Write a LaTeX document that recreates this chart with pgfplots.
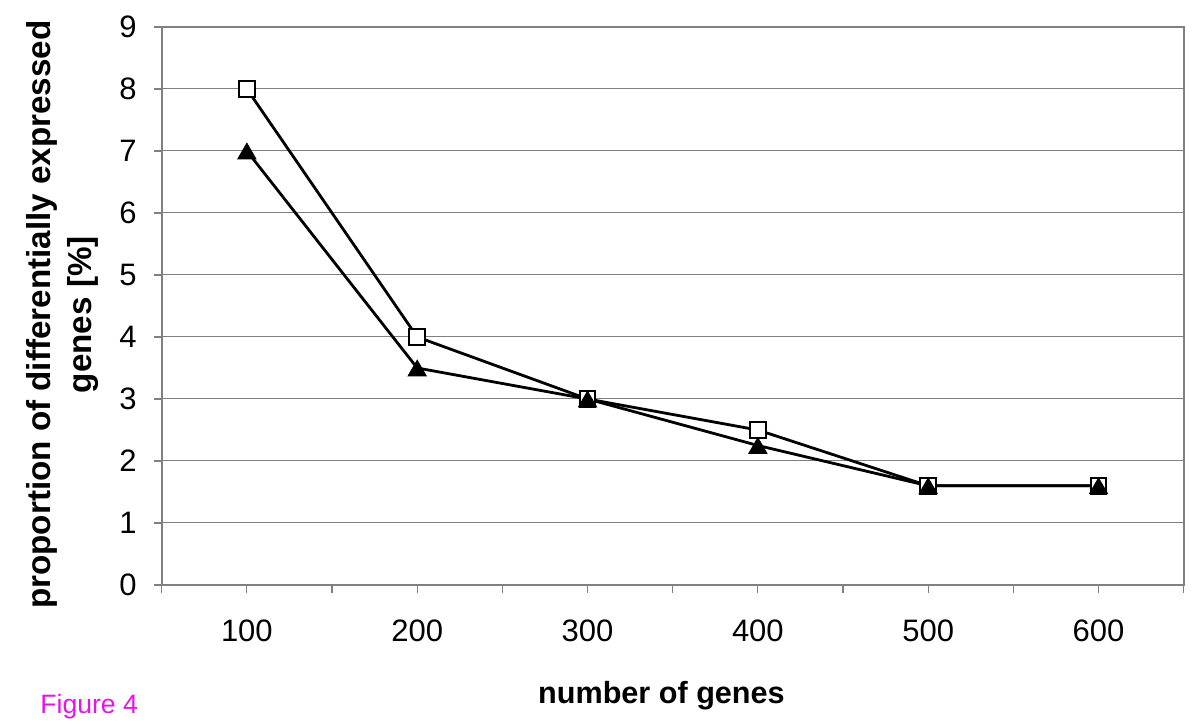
\documentclass[border=0pt]{standalone}
\usepackage{fontspec}
\setmainfont{Liberation Sans}
\usepackage{pgfplots}
\pgfplotsset{compat=1.18}
\definecolor{axgray}{RGB}{128,128,128}
\definecolor{figmag}{RGB}{230,20,230}
\begin{document}
\begin{tikzpicture}[x=1pt,y=1pt]
\path[use as bounding box] (0,0) rectangle (600,363.5);
\begin{axis}[
  at={(80.85pt,71pt)}, anchor=south west,
  scale only axis, width=511pt, height=279pt,
  xmin=50, xmax=650, ymin=0, ymax=9,
  xtick={100,200,...,600}, minor xtick={50,150,...,650},
  ytick={0,1,...,9},
  tick align=outside, tick pos=left,
  tick style={axgray, line width=0.6pt},
  minor tick style={axgray, line width=0.6pt},
  major tick length=4pt, minor tick length=4pt,
  ymajorgrids, grid style={axgray, line width=0.5pt},
  axis line style={axgray, line width=1pt},
  ticklabel style={font=\fontsize{15.5}{18}\selectfont, text=black},
  /pgf/number format/assume math mode=true,
  /pgf/number format/1000 sep={},
  xticklabel style={yshift=-10pt},
  yticklabel style={xshift=-5pt},
  xlabel={number of genes},
  xlabel style={at={(axis description cs:0.489,-0.2120)}, anchor=base, font=\fontsize{15.3}{18}\selectfont\bfseries},
  ylabel={proportion of differentially expressed\\genes [\%]},
  ylabel style={at={(axis description cs:-0.0970,0.4845)}, anchor=center, rotate=0, align=center, font=\fontsize{16.6}{20.5}\selectfont\bfseries},
  clip=false,
]
\addplot[black, line width=1.4pt, mark=square*, mark size=3.9pt,
  mark options={fill=white, draw=black, line width=1pt}]
  coordinates {(100,8) (200,4) (300,3) (400,2.5) (500,1.6) (600,1.6)};
\addplot[black, line width=1.4pt, mark=triangle*, mark size=5.33pt,
  mark options={fill=black, draw=black, line width=0.3pt, yshift=-1.33pt}]
  coordinates {(100,7) (200,3.5) (300,3) (400,2.25) (500,1.6) (600,1.6)};
\end{axis}
\node[anchor=base west, inner sep=0pt, text=figmag, font=\fontsize{13.3}{15}\selectfont] at (20,6.5) {Figure 4};
\end{tikzpicture}
\end{document}
